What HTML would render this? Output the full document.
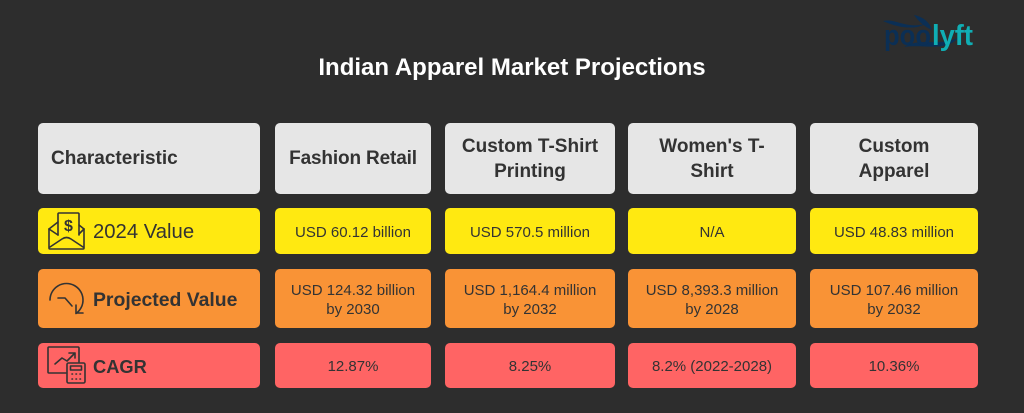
<!DOCTYPE html>
<html lang="en">
<head>
<meta charset="utf-8">
<title>Indian Apparel Market Projections</title>
<style>
html,body{margin:0;padding:0;width:1024px;height:413px;overflow:hidden;background:#2d2d2d;}
body{position:relative;font-family:"Liberation Sans",sans-serif;color:#333;}
.c{position:absolute;box-sizing:border-box;border-radius:5px;display:flex;align-items:center;justify-content:center;text-align:center;padding-top:2px;}
.h{background:#e6e6e6;font-weight:700;font-size:19px;line-height:24.500px;top:123px;height:71px;}
.y{background:#ffe911;top:208px;height:46px;}
.o{background:#f99336;top:269px;height:59px;}
.r{background:#ff6464;top:343px;height:45px;}
.v{font-size:15px;line-height:19px;}
.l{left:38px;width:222px;justify-content:flex-start;}
.c1{left:275px;width:156px;}
.c2{left:445px;width:170px;}
.c3{left:628px;width:168px;}
.c4{left:810px;width:168px;}
.t{position:absolute;left:93px;white-space:nowrap;line-height:24px;}
svg.i{position:absolute;fill:none;stroke:#333;stroke-width:1.6;stroke-linejoin:round;stroke-linecap:round;}
#title{position:absolute;left:0;top:53px;width:1024px;text-align:center;color:#fff;font-weight:700;font-size:24px;line-height:29px;}
</style>
</head>
<body>
<svg style="position:absolute;left:880px;top:15px" width="100" height="42" viewBox="0 0 100 42">
<path d="M3 6 C15 3 25 14 45 9 C35 15 18 13 3 6Z" fill="#0b2f55"/>
<path d="M34 0 C44 2 50 8 52 15 C45 12 39 7 34 0Z" fill="#0b2f55"/>
<path d="M24 32 C40 22 55 32 78 23 C66 37 44 29 24 32Z" fill="#0b2f55"/>
<text x="4" y="30" font-family="Liberation Sans" font-weight="700" font-size="29" fill="#0b2f55" textLength="47" lengthAdjust="spacingAndGlyphs">poo</text>
<text x="52" y="30" font-family="Liberation Sans" font-weight="700" font-size="29" fill="#10aeb4" textLength="41" lengthAdjust="spacingAndGlyphs">lyft</text>
</svg>

<div id="title">Indian Apparel Market Projections</div>

<div class="c h l" style="padding-left:13px">Characteristic</div>
<div class="c h c1"><span style="letter-spacing:-.15px">Fashion Retail</span></div>
<div class="c h c2">Custom T-Shirt<br>Printing</div>
<div class="c h c3">Women's T-<br>Shirt</div>
<div class="c h c4">Custom<br>Apparel</div>

<div class="c y l"></div>
<svg class="i" style="left:47px;top:211px" width="40" height="40" viewBox="0 0 40 40">
<path d="M2 18 L2 37 Q2 38 3 38 L36 38 Q37 38 37 37 L37 18"/>
<path d="M2 18 L11 11 M37 18 L32 14"/>
<path d="M11 24 L11 3 Q11 2 12 2 L31 2 Q32 2 32 3 L32 24"/>
<path d="M3 36 L15 28 Q19.500 25 24 28 L36 36 M2 18 L11 24 M37 18 L32 23"/>
<text x="21.500" y="20" font-family="Liberation Sans" font-size="16" font-weight="700" fill="#333" stroke="none" text-anchor="middle">$</text>
</svg>
<div class="t" style="top:220px;font-size:20.300px">2024 Value</div>
<div class="c y v c1">USD 60.12 billion</div>
<div class="c y v c2">USD 570.5 million</div>
<div class="c y v c3">N/A</div>
<div class="c y v c4">USD 48.83 million</div>

<div class="c o l"></div>
<svg class="i" style="left:48px;top:281px" width="38" height="36" viewBox="0 0 38 36">
<path d="M2 19 A16.500 16.500 0 1 1 28 32.500"/>
<path d="M28 24 L28 32 L35 32"/>
<path d="M10 17 L17 17 L24 25"/>
</svg>
<div class="t" style="top:288px;font-size:19.400px;font-weight:700">Projected Value</div>
<div class="c o v c1">USD 124.32 billion<br>by 2030</div>
<div class="c o v c2">USD 1,164.4 million<br>by 2032</div>
<div class="c o v c3">USD 8,393.3 million<br>by 2028</div>
<div class="c o v c4">USD 107.46 million<br>by 2032</div>

<div class="c r l"></div>
<svg class="i" style="left:47px;top:346px" width="40" height="40" viewBox="0 0 40 40">
<path d="M19 27 L2 27 Q1 27 1 26 L1 2 Q1 1 2 1 L31 1 Q32 1 32 2 L32 16"/>
<path d="M8 18 L15 12 L20 15 L28 7 M22 7 L28 7 L28 12"/>
<rect x="20" y="17" width="18" height="20" rx="1.500"/>
<rect x="23.500" y="20" width="11" height="4"/>
<path d="M25 28 h.5 M29 28 h.5 M33 28 h.5 M25 33 h.5 M29 33 h.5 M33 33 h.5"/>
</svg>
<div class="t" style="top:355px;font-size:18.300px;font-weight:700">CAGR</div>
<div class="c r v c1">12.87%</div>
<div class="c r v c2">8.25%</div>
<div class="c r v c3">8.2% (2022-2028)</div>
<div class="c r v c4">10.36%</div>
</body>
</html>
